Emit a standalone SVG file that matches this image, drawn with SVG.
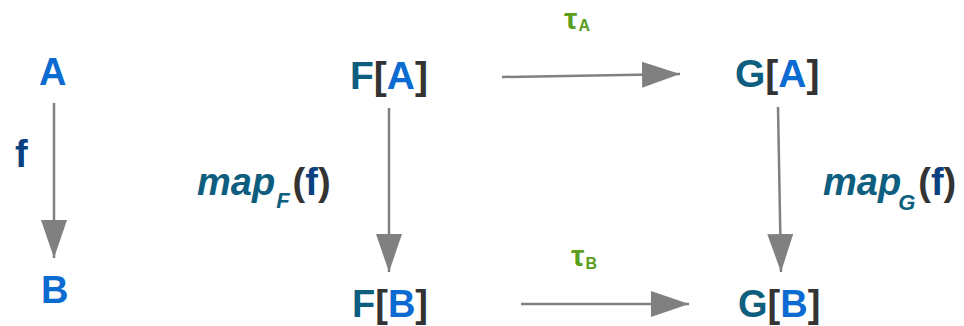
<svg xmlns="http://www.w3.org/2000/svg" width="964" height="326" viewBox="0 0 964 326">
<style>
.t{font-family:"Liberation Sans",Arial,sans-serif;font-weight:bold;font-size:38px}
.blue{fill:#0b6bd1}
.teal{fill:#0e5e80}
.br{fill:#333333}
.navy{fill:#0b4180}
.it{font-style:italic}
.tau{font-family:"Liberation Sans",Arial,sans-serif;font-weight:bold;fill:#5a9e1c}
.c{stroke:#808080;stroke-width:2.5;fill:none;marker-end:url(#ah)}
</style>
<defs>
<marker id="ah" markerUnits="userSpaceOnUse" markerWidth="40" markerHeight="28" refX="38" refY="13" orient="auto">
<path d="M0,0 L38,13 L0,26 Z" fill="#808080"/>
</marker>
</defs>
<g id="connectors">
<line class="c" x1="54" y1="103" x2="54" y2="258"/>
<line class="c" x1="389" y1="108" x2="389" y2="272"/>
<line class="c" x1="778" y1="107" x2="781" y2="272"/>
<line class="c" x1="502" y1="77" x2="680" y2="74"/>
<line class="c" x1="521" y1="304" x2="689" y2="304"/>
</g>
<g id="A"><text class="t blue" x="39" y="85">A</text></g>
<g id="B"><text class="t blue" x="41" y="303">B</text></g>
<g id="label-f"><text class="t navy" x="15" y="167">f</text></g>
<g id="FA"><text class="t" x="350" y="89" style="font-size:39px"><tspan class="teal">F</tspan><tspan class="br">[</tspan><tspan class="blue">A</tspan><tspan class="br">]</tspan></text></g>
<g id="GA"><text class="t" x="735" y="87" style="font-size:39px"><tspan class="teal">G</tspan><tspan class="br">[</tspan><tspan class="blue">A</tspan><tspan class="br">]</tspan></text></g>
<g id="FB"><text class="t" x="352" y="317"><tspan class="teal">F</tspan><tspan class="br">[</tspan><tspan class="blue">B</tspan><tspan class="br">]</tspan></text></g>
<g id="GB"><text class="t" x="738" y="317"><tspan class="teal">G</tspan><tspan class="br">[</tspan><tspan class="blue">B</tspan><tspan class="br">]</tspan></text></g>
<g id="mapF"><text class="t" x="197" y="195"><tspan class="teal it">map</tspan><tspan class="teal it" style="font-size:22px" dy="13" dx="1">F</tspan><tspan class="br" dy="-13" dx="3">(</tspan><tspan class="navy">f</tspan><tspan class="br">)</tspan></text></g>
<g id="mapG"><text class="t" x="823" y="195"><tspan class="teal it">map</tspan><tspan class="teal it" style="font-size:22px" dy="15" dx="-3">G</tspan><tspan class="br" dy="-15" dx="3">(</tspan><tspan class="navy">f</tspan><tspan class="br">)</tspan></text></g>
<g id="tauA"><text class="tau" x="564" y="29" style="font-size:30px">τ<tspan style="font-size:16px" dy="2" dx="1">A</tspan></text></g>
<g id="tauB"><text class="tau" x="571" y="266" style="font-size:30px">τ<tspan style="font-size:16px" dy="3" dx="1">B</tspan></text></g>
</svg>
